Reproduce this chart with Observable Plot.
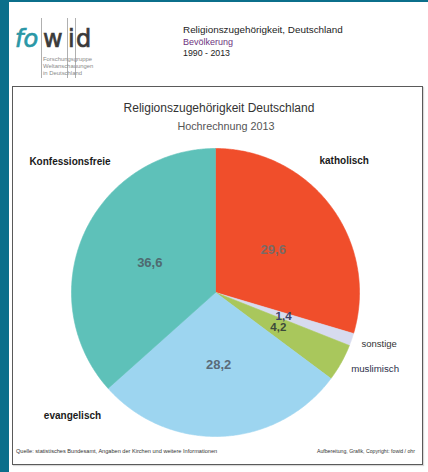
<!DOCTYPE html>
<html>
<head>
<meta charset="utf-8">
<script src="https://cdn.jsdelivr.net/npm/d3@7"></script>
<script src="https://cdn.jsdelivr.net/npm/@observablehq/plot@0.6"></script>
<style>
  body { margin: 0; background: #fff; font-family: "Liberation Sans", Arial, sans-serif; }
  #page { position: relative; width: 428px; height: 472px; overflow: hidden; background: #fff; }
  .abs { position: absolute; white-space: nowrap; }
  #leftbar { left: 0; top: 0; width: 9px; height: 472px; background: #0b6f8b; }
  #topbar { left: 0; top: 0; width: 428px; height: 2px; background: #0b6f8b; }
  #frame { left: 12px; top: 86px; width: 411px; height: 379px; box-sizing: border-box; border: 1px solid #5a5a5a; box-shadow: 1px 1px 1px rgba(0,0,0,0.15); }
  .logo { font-family: "DejaVu Sans", sans-serif; font-size: 24px; line-height: 24px; -webkit-text-stroke: 0.7px currentColor; }
  .vline { width: 0; border-left: 0.8px solid #b0b0b0; top: 18px; height: 60px; }
  .logosub { font-size: 5.9px; line-height: 7px; color: #8a8a8a; left: 43px; }
</style>
</head>
<body>
<div id="page">
  <div class="abs" id="leftbar"></div>
  <div class="abs" id="topbar"></div>

  <div class="abs vline" style="left:41px"></div>
  <div class="abs vline" style="left:67px"></div>
  <div class="abs vline" style="left:75px"></div>
  <div class="abs logo" style="left:15px;top:27px;color:#2a97a6;font-style:italic;">fo</div>
  <div class="abs logo" style="left:43px;top:27px;color:#3a3a3a;">w</div>
  <div class="abs logo" style="left:68px;top:27px;color:#3a3a3a;">i</div>
  <div class="abs logo" style="left:76px;top:27px;color:#3a3a3a;">d</div>
  <div class="abs logosub" style="top:55.5px">Forschungsgruppe</div>
  <div class="abs logosub" style="top:62.5px">Weltanschauungen</div>
  <div class="abs logosub" style="top:69.5px">in Deutschland</div>

  <div class="abs" style="left:183px;top:25px;font-size:9.9px;line-height:10px;color:#222;">Religionszugehörigkeit, Deutschland</div>
  <div class="abs" style="left:183px;top:37.5px;font-size:9px;line-height:9px;color:#6e3380;">Bevölkerung</div>
  <div class="abs" style="left:183px;top:48.5px;font-size:8.8px;line-height:9px;color:#222;">1990 - 2013</div>

  <div class="abs" id="frame"></div>

  <div class="abs" style="left:119px;width:200px;text-align:center;top:102px;font-size:12px;line-height:12px;color:#333;">Religionszugehörigkeit Deutschland</div>
  <div class="abs" style="left:126px;width:200px;text-align:center;top:120.5px;font-size:10.8px;line-height:11px;color:#555;">Hochrechnung 2013</div>

  <div class="abs" style="left:16px;top:448px;font-size:5.6px;line-height:6px;color:#333;">Quelle: statistisches Bundesamt, Angaben der Kirchen und weitere Informationen</div>
  <div class="abs" style="right:13px;top:448px;font-size:5.2px;line-height:6px;color:#333;">Aufbereitung, Grafik, Copyright: fowid / ohr</div>
</div>
<script>
// ---- data ----
const categories = ["katholisch", "sonstige", "muslimisch", "evangelisch", "Konfessionsfreie"];
const shares = [29.6, 1.4, 4.2, 28.2, 36.6];
const sliceColors = ["#f04e2b", "#d7dbef", "#a9c75c", "#9dd5f0", "#5ec1b9"];

// ---- layout ----
const cx = 215, cy = 292, r = 144;
// outer label placement: angle (deg, clockwise from 12 o'clock) and distance in radius units
const outerPlacement = {
  "Konfessionsfreie": {angle: 312, dist: 1.36, bold: true, size: 10, color: "#1a1a1a"},
  "katholisch": {angle: 44.3, dist: 1.28, bold: true, size: 10, color: "#1a1a1a"},
  "sonstige": {angle: 107.3, dist: 1.19, bold: false, size: 9.5, color: "#333"},
  "muslimisch": {angle: 115.7, dist: 1.23, bold: false, size: 9.7, color: "#2c2f4a"},
  "evangelisch": {angle: 229.3, dist: 1.31, bold: true, size: 10, color: "#1a1a1a"}
};
const valueStyle = {
  "katholisch": {size: 13, color: "#7a6a66"},
  "sonstige": {size: 11.5, color: "#3e4268"},
  "muslimisch": {size: 11.5, color: "#3d4a3a"},
  "evangelisch": {size: 13, color: "#5a6b78"},
  "Konfessionsfreie": {size: 13, color: "#4f6a70"}
};

const rows = categories.map((name, i) => ({name, share: shares[i]}));
const arcs = d3.pie().sort(null).value(d => d.share)(rows);

const poly = [];
arcs.forEach(a => {
  const name = a.data.name;
  poly.push({name, x: 0, y: 0});
  const n = Math.max(2, Math.ceil((a.endAngle - a.startAngle) / (Math.PI / 360)));
  for (let k = 0; k <= n; k++) {
    const t = a.startAngle + (a.endAngle - a.startAngle) * k / n;
    poly.push({name, x: Math.sin(t), y: -Math.cos(t)});
  }
  poly.push({name, x: 0, y: 0});
});

const fmt = v => d3.format(".1f")(v).replace(".", ",");
const valueData = arcs.map(a => {
  const m = (a.startAngle + a.endAngle) / 2;
  return {name: a.data.name, x: 0.5 * Math.sin(m), y: -0.5 * Math.cos(m), text: fmt(a.data.share)};
});
const outerData = categories.map(name => {
  const p = outerPlacement[name];
  const t = p.angle * Math.PI / 180;
  return {name, x: p.dist * Math.sin(t), y: -p.dist * Math.cos(t), text: name};
});

const valueMarks = categories.map(name => Plot.text(valueData.filter(d => d.name === name), {
  x: "x", y: "y", text: "text", fontSize: valueStyle[name].size, fontWeight: "bold", fill: valueStyle[name].color
}));
const outerMarks = categories.map(name => Plot.text(outerData.filter(d => d.name === name), {
  x: "x", y: "y", text: "text", fontSize: outerPlacement[name].size,
  fontWeight: outerPlacement[name].bold ? "bold" : "normal", fill: outerPlacement[name].color
}));

const chart = Plot.plot({
  width: 428,
  height: 472,
  margin: 0,
  x: {domain: [-1, 1], range: [cx - r, cx + r], axis: null},
  y: {domain: [-1, 1], range: [cy - r, cy + r], axis: null},
  color: {domain: categories, range: sliceColors},
  style: {background: "transparent", fontFamily: "'Liberation Sans', Arial, sans-serif", overflow: "visible"},
  marks: [
    Plot.line(poly, {x: "x", y: "y", z: "name", fill: "name", stroke: "name", strokeWidth: 0.6, curve: "linear"}),
    ...valueMarks,
    ...outerMarks
  ]
});
chart.style.position = "absolute";
chart.style.left = "0px";
chart.style.top = "0px";
document.getElementById("page").appendChild(chart);
</script>
</body>
</html>
